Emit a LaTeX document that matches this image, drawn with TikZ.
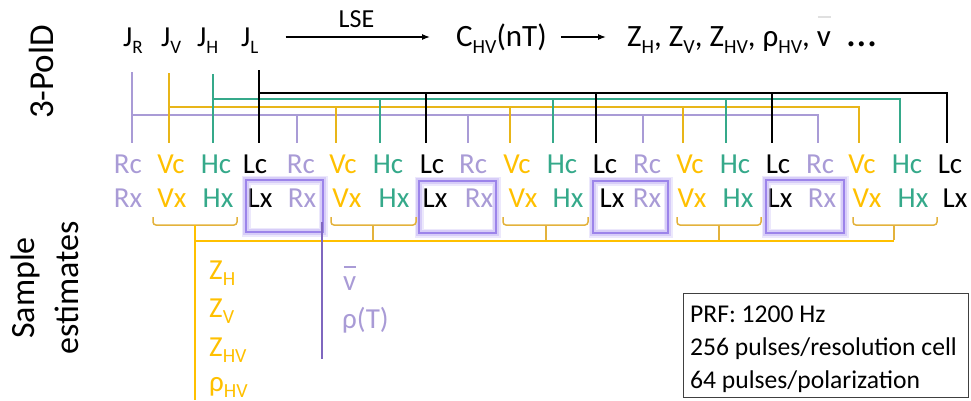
\documentclass[tikz,border=0pt]{standalone}
\usepackage{fontspec}
\setmainfont{Carlito}
\usetikzlibrary{arrows.meta}
\definecolor{cR}{HTML}{A99BD6}
\definecolor{cV}{HTML}{FFC000}
\definecolor{cH}{HTML}{35A98A}
\definecolor{cL}{HTML}{000000}
\definecolor{boxP}{HTML}{9C84EA}
\definecolor{glowP}{HTML}{C9BCF5}
\definecolor{braceY}{HTML}{E3B23C}
\definecolor{lineP}{HTML}{7F67BF}
\newcommand\sbx[2][19]{\raisebox{-0.23em}{\fontsize{#1}{#1}\selectfont #2}}
\newcommand\vbarred[2]{\leavevmode\rlap{\hspace{0.02em}\textcolor{#1}{\rule[#2]{0.42em}{0.06em}}}v}
\tikzset{
  lab/.style={anchor=base, inner sep=0pt, font=\fontsize{29}{35}\selectfont},
  toplab/.style={anchor=base west, inner sep=0pt, font=\fontsize{29}{35}\selectfont},
  bigtop/.style={anchor=base west, inner sep=0pt, font=\fontsize{31}{37}\selectfont},
  infotext/.style={anchor=base west, inner sep=0pt, font=\fontsize{25.6}{31}\selectfont},
  busR/.style={draw=cR, line width=2.4pt},
  busV/.style={draw=cV!90!black!90, line width=2.4pt},
  busH/.style={draw=cH, line width=2pt},
  busL/.style={draw=cL, line width=1.5pt},
  arr/.style={line width=1.2pt, -{Latex[length=8pt,width=6pt]}},
  glowa/.style={draw=glowP, line width=9pt, opacity=0.35},
  glowb/.style={draw=glowP, line width=6pt, opacity=0.6},
  pbox/.style={draw=boxP, line width=2.6pt},
  bracestyle/.style={draw=braceY, line width=1.5pt, rounded corners=3pt},
  yline/.style={draw=cV, line width=2.4pt},
  pline/.style={draw=lineP, line width=2pt},
}
\begin{document}
\begin{tikzpicture}[x=1pt, y=-1pt]
\useasboundingbox (0,0) rectangle (971,400);

% side titles
\node[rotate=90, inner sep=0pt, font=\fontsize{35}{42}\selectfont] (pold) at (41.5,72) {3-PolD};
\node[rotate=90, inner sep=0pt, align=center, font=\fontsize{34}{44}\selectfont] (samp) at (45,288) {Sample\\estimates};

% top row
\node[toplab] (jr) at (123,46.5) {J\sbx{R}};
\node[toplab] (jv) at (161,46.5) {J\sbx{V}};
\node[toplab] (jh) at (197,46.5) {J\sbx{H}};
\node[toplab] (jl) at (241,46.5) {J\sbx{L}};
\node[anchor=base, inner sep=0pt, font=\fontsize{26}{31}\selectfont] (lse) at (356.5,27.5) {LSE};
\node[bigtop] (chv) at (456,46.5) {C\sbx[20]{HV}(nT)};
\node[bigtop] (zlist) at (627,46.5) {Z\sbx[20]{H}, Z\sbx[20]{V}, Z\sbx[20]{HV}, ρ\sbx[20]{HV}, \vbarred{black!12}{0.93em}\hspace{0.55em}{\fontsize{42}{42}\selectfont …}};
\coordinate (arry) at (0,37);
\draw[arr] ([xshift=27pt]jl.east |- arry) -- ([xshift=-26pt]chv.west |- arry);
\draw[arr] ([xshift=14pt]chv.east |- arry) -- ([xshift=-21pt]zlist.west |- arry);

% buses
\draw[busR] (132,72) -- (132,143);
\draw[busR] (132,115) -- (818,115) -- (818,143);
\foreach \x in {297,468,643} \draw[busR] (\x,115) -- (\x,143);
\draw[busV] (169,73) -- (169,143);
\draw[busV] (169,107) -- (859,107) -- (859,143);
\foreach \x in {336,510,683} \draw[busV] (\x,107) -- (\x,143);
\draw[busH] (213,74) -- (213,143);
\draw[busH] (213,99) -- (900,99) -- (900,143);
\foreach \x in {380,553,726} \draw[busH] (\x,99) -- (\x,143);
\draw[busL] (259,70) -- (259,143);
\draw[busL] (259,93) -- (947,93) -- (947,143);
\foreach \x in {426,596,772} \draw[busL] (\x,93) -- (\x,143);

% first label row
\foreach \x/\t/\c [count=\i] in {128/Rc/cR,171/Vc/cV,216/Hc/cH,255/Lc/cL,301/Rc/cR,343/Vc/cV,388/Hc/cH,432/Lc/cL,473/Rc/cR,517/Vc/cV,562/Hc/cH,605/Lc/cL,647/Rc/cR,690/Vc/cV,735/Hc/cH,778/Lc/cL,820/Rc/cR,862/Vc/cV,907/Hc/cH,950/Lc/cL}
  \node[lab, text=\c] (c\i) at (\x,173) {\t};
% second label row
\foreach \x/\t/\c [count=\i] in {128/Rx/cR,172/Vx/cV,218/Hx/cH,260/Lx/cL,302/Rx/cR,347/Vx/cV,394/Hx/cH,435/Lx/cL,479/Rx/cR,523/Vx/cV,568/Hx/cH,612/Lx/cL,647/Rx/cR,692/Vx/cV,738/Hx/cH,780/Lx/cL,822/Rx/cR,867/Vx/cV,913/Hx/cH,955/Lx/cL}
  \node[lab, text=\c] (x\i) at (\x,207) {\t};

% purple glowing boxes
\foreach \a/\b/\cc/\d in {246/180/323/232,419/181/496/233,593/181/668/233,766/180/844/233}{
  \draw[glowa] (\a,\b) rectangle (\cc,\d);
  \draw[glowb] (\a,\b) rectangle (\cc,\d);
  \draw[pbox] (\a,\b) rectangle (\cc,\d);
}

% braces
\foreach \a/\m/\b in {153/195/237,331/373/416,503/546/588,677/719/761,853/894/937}{
  \draw[bracestyle] (\a,217) -- (\a,225) -- (\b,225) -- (\b,217);
  \draw[braceY, line width=1.5pt] (\m,225) -- (\m,240);
}
\draw[yline] (195,225) -- (195,400);
\draw[yline] (195,241) -- (894,241);
\draw[pline] (322,222) -- (322,359);

% sample estimates
\node[toplab, text=cV] (zh) at (209,279) {Z\sbx[20]{H}};
\node[toplab, text=cV] (zv) at (209,317) {Z\sbx[20]{V}};
\node[toplab, text=cV] (zhv) at (209,356) {Z\sbx[20]{HV}};
\node[toplab, text=cV] (rhv) at (209,391) {ρ\sbx[20]{HV}};
\node[toplab, text=cR] (vb) at (343,290) {\vbarred{cR}{0.76em}};
\node[toplab, text=cR] (rt) at (342,328) {ρ(T)};

% info box
\node[draw=black!75, line width=0.8pt, minimum width=285pt, minimum height=104pt, anchor=north west, inner sep=0pt] (info) at (683,293) {};
\node[infotext] (i1) at (690,322) {PRF: 1200 Hz};
\node[infotext] (i2) at (690,355) {256 pulses/resolution cell};
\node[infotext] (i3) at (690,388) {64 pulses/polarization};
\end{tikzpicture}
\end{document}
